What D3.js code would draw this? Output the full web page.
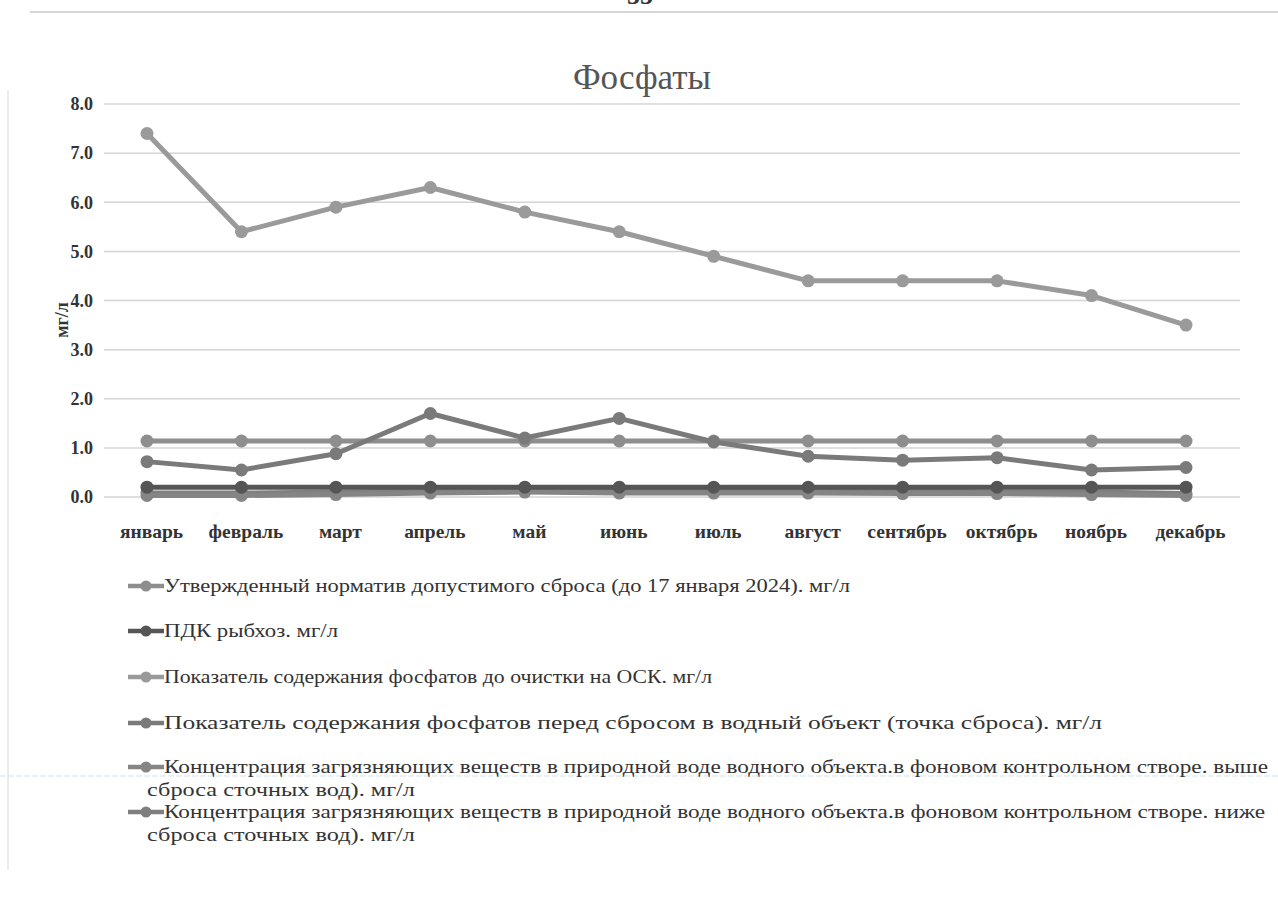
<!DOCTYPE html>
<html><head><meta charset="utf-8">
<script src="https://cdn.jsdelivr.net/npm/d3@7/dist/d3.min.js"></script>
<style>body{margin:0;background:#fff}svg{display:block}</style>
</head><body>
<svg id="c" width="1278" height="919"></svg>
<script>
const months = ["январь","февраль","март","апрель","май","июнь","июль","август","сентябрь","октябрь","ноябрь","декабрь"];
const yTicks = [0,1,2,3,4,5,6,7,8];
const normValues   = [1.14,1.14,1.14,1.14,1.14,1.14,1.14,1.14,1.14,1.14,1.14,1.14];
const pdkValues    = [0.2,0.2,0.2,0.2,0.2,0.2,0.2,0.2,0.2,0.2,0.2,0.2];
const beforeValues = [7.4,5.4,5.9,6.3,5.8,5.4,4.9,4.4,4.4,4.4,4.1,3.5];
const dischargeValues = [0.72,0.55,0.88,1.7,1.2,1.6,1.12,0.83,0.75,0.8,0.55,0.6];
const aboveValues  = [0.03,0.03,0.05,0.08,0.1,0.08,0.08,0.08,0.07,0.07,0.05,0.03];
const belowValues  = [0.08,0.08,0.1,0.12,0.14,0.12,0.12,0.12,0.12,0.1,0.1,0.07];
const seriesNames = [
  ["Утвержденный норматив допустимого сброса (до 17 января 2024).  мг/л"],
  ["ПДК рыбхоз. мг/л"],
  ["Показатель содержания фосфатов до очистки на ОСК. мг/л"],
  ["Показатель содержания фосфатов перед сбросом в водный объект (точка сброса). мг/л"],
  ["Концентрация загрязняющих веществ в природной воде водного объекта.в фоновом контрольном створе. выше","сброса сточных вод). мг/л"],
  ["Концентрация загрязняющих веществ в природной воде водного объекта.в фоновом контрольном створе. ниже","сброса сточных вод). мг/л"]
];
const seriesValues = [normValues, pdkValues, beforeValues, dischargeValues, aboveValues, belowValues];
const colors = ["#8e8e8e","#555555","#9a9a9a","#7a7a7a","#858585","#7f7f7f"];
const drawOrder = [2,0,3,5,4,1];

const svg = d3.select("#c");
const serif = "'Liberation Serif','DejaVu Serif',serif";

// page decorations (scan)
svg.append("line").attr("x1",30).attr("x2",1278).attr("y1",12).attr("y2",12).attr("stroke","#c8c8c8").attr("stroke-width",1.5);
svg.append("text").attr("x",640).attr("y",4).attr("text-anchor","middle").attr("font-family",serif).attr("font-weight","bold").attr("font-size",26).attr("fill","#333").text("55");
svg.append("line").attr("x1",8).attr("x2",8).attr("y1",90).attr("y2",870).attr("stroke","#e6e6e6").attr("stroke-width",1.5);
svg.append("line").attr("x1",0).attr("x2",1278).attr("y1",776).attr("y2",776).attr("stroke","#cfe3ee").attr("stroke-width",1).attr("stroke-dasharray","6,2");

const x = d3.scalePoint().domain(months).range([147,1186]);
const y = d3.scaleLinear().domain([0,8]).range([497,104]);

// title
svg.append("text").attr("x",642).attr("y",89).attr("text-anchor","middle")
  .attr("font-family",serif).attr("font-size",35).attr("fill","#555").text("Фосфаты");

// gridlines
svg.append("g").selectAll("line").data(yTicks).join("line")
  .attr("x1",104).attr("x2",1240).attr("y1",d=>y(d)).attr("y2",d=>y(d))
  .attr("stroke","#d4d4d4").attr("stroke-width",1.5);

// y axis
const yAxis = svg.append("g").attr("transform","translate(100,0)")
  .call(d3.axisLeft(y).tickValues(yTicks).tickFormat(d3.format(".1f")).tickSize(0).tickPadding(7));
yAxis.select(".domain").remove();
yAxis.selectAll("text").attr("font-family",serif).attr("font-size",18).attr("font-weight","bold").attr("fill","#333");

// x axis
const xAxis = svg.append("g").attr("transform","translate(4,516)")
  .call(d3.axisBottom(x).tickSize(0).tickPadding(8));
xAxis.select(".domain").remove();
xAxis.selectAll("text").attr("font-family",serif).attr("font-size",19.5).attr("font-weight","bold").attr("fill","#333");

// y label
svg.append("text").attr("transform","translate(68,320) rotate(-90)").attr("text-anchor","middle")
  .attr("font-family",serif).attr("font-size",18).attr("font-weight","bold").attr("fill","#333").text("мг/л");

const line = d3.line().x((d,i)=>x(months[i])).y(d=>y(d));
drawOrder.forEach(si=>{
  const g = svg.append("g");
  g.append("path").datum(seriesValues[si]).attr("d",line).attr("fill","none")
    .attr("stroke",colors[si]).attr("stroke-width",5).attr("stroke-linejoin","round");
  g.selectAll("circle").data(seriesValues[si]).join("circle")
    .attr("cx",(d,i)=>x(months[i])).attr("cy",d=>y(d)).attr("r",6.5).attr("fill",colors[si]);
});

// legend
const legY = [586,631,677,723,767,812];
const legWidths = [[686],[174],[548],[938],[1104,268],[1101,268]];
seriesNames.forEach((lines,i)=>{
  const g = svg.append("g").attr("transform",`translate(0,${legY[i]})`);
  g.append("line").attr("x1",128).attr("x2",164).attr("y1",0).attr("y2",0).attr("stroke",colors[i]).attr("stroke-width",4.5);
  g.append("circle").attr("cx",146).attr("cy",0).attr("r",5.5).attr("fill",colors[i]);
  lines.forEach((t,j)=>{
    g.append("text").attr("x",j===0?164:147).attr("y",6+j*22.5)
      .attr("font-family",serif).attr("font-size",19).attr("fill","#333")
      .attr("textLength",legWidths[i][j]).attr("lengthAdjust","spacingAndGlyphs")
      .text(t);
  });
});
</script>
</body></html>
